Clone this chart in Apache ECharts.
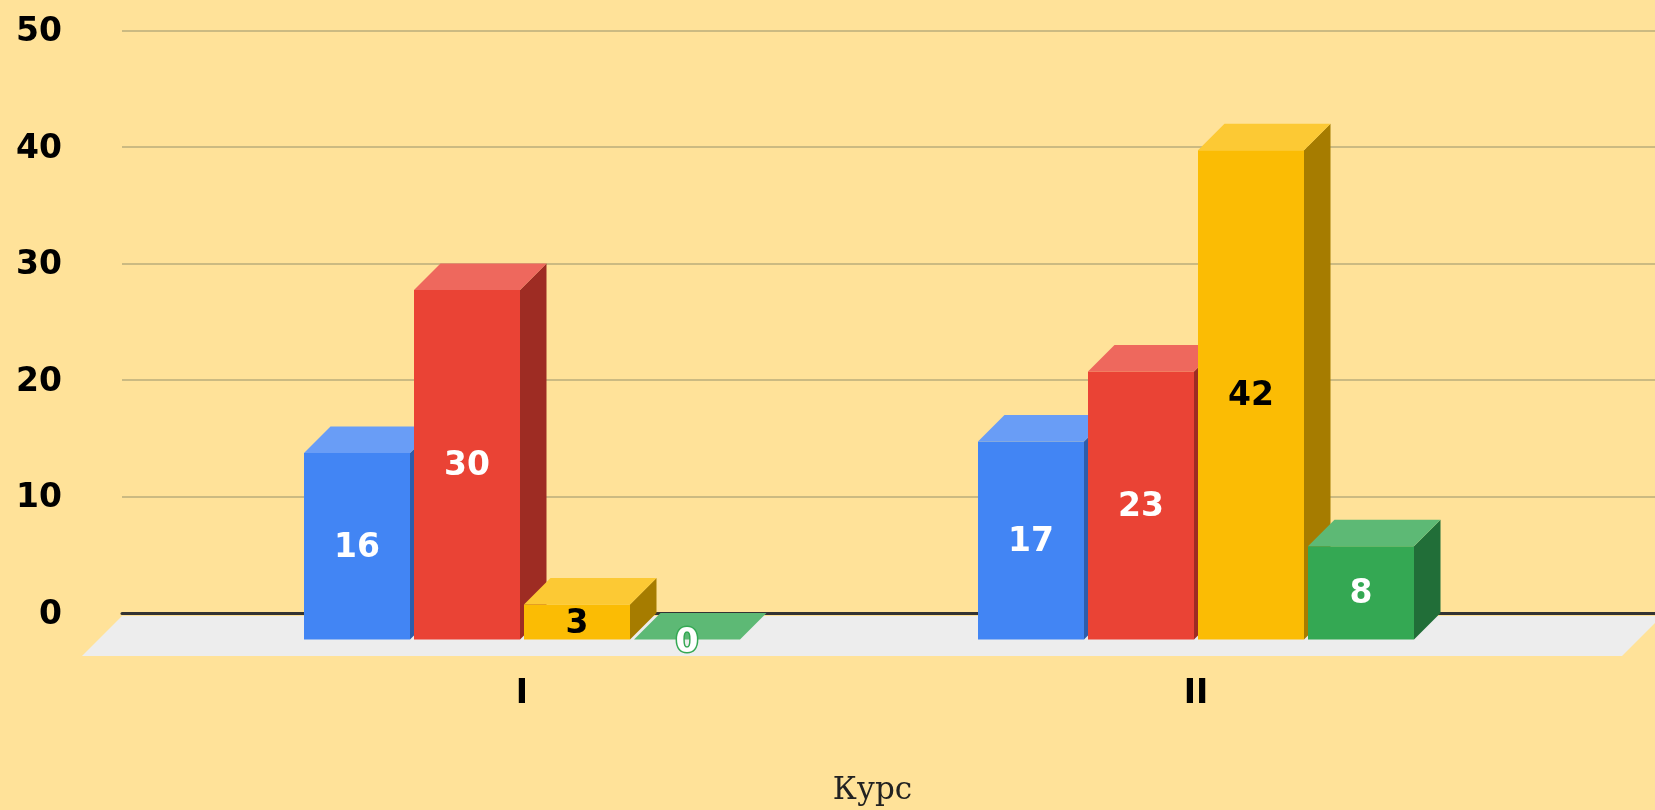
<!DOCTYPE html>
<html>
<head>
<meta charset="utf-8">
<style>html,body{margin:0;padding:0;background:#FFE299}#c{width:1655px;height:810px}</style>
<script src="https://cdn.jsdelivr.net/npm/echarts@6/dist/echarts.min.js"></script>
</head>
<body>
<div id="c"></div>
<script>
const categories = ['I', 'II'];
const valueTicks = [0, 10, 20, 30, 40, 50];
const axisTitle = 'Курс';
const seriesA = [16, 17];
const seriesB = [30, 23];
const seriesC = [3, 42];
const seriesD = [0, 8];

const palette = [
  {front:'#4285F4', top:'#699DF6', side:'#2E5DAB', text:'#ffffff'},
  {front:'#EA4335', top:'#EE685D', side:'#9E2C23', text:'#ffffff'},
  {front:'#FBBC04', top:'#FCC934', side:'#A67C00', text:'#000000'},
  {front:'#34A853', top:'#5DB975', side:'#216E38', text:'#ffffff'}
];
const DEPTH = 26.5, BAR_W = 106, PITCH = 110;
const labelFont = 'bold 33px "DejaVu Sans", sans-serif';

function barRenderer(idx) {
  const c = palette[idx];
  return function (params, api) {
    const base = api.coord([api.value(0), 0]);
    const back = api.coord([api.value(0), api.value(1)]);
    const xl = base[0] + (idx - 2) * PITCH + (PITCH - BAR_W) / 2;
    const xr = xl + BAR_W;
    const yTop = back[1] + DEPTH, yBot = base[1] + DEPTH;
    const children = [];
    if (yBot > yTop) {
      children.push({type:'polygon', shape:{points:[[xr,yTop],[xr+DEPTH,back[1]],[xr+DEPTH,base[1]],[xr,yBot]]}, style:{fill:c.side}});
      children.push({type:'rect', shape:{x:xl,y:yTop,width:BAR_W,height:yBot-yTop}, style:{fill:c.front}});
    }
    children.push({type:'polygon', shape:{points:[[xl,yTop],[xl+DEPTH,back[1]],[xr+DEPTH,back[1]],[xr,yTop]]}, style:{fill:c.top}});
    const zero = api.value(1) === 0;
    children.push({type:'text', z2:10, style:{
      x:(xl+xr)/2, y:(yTop+yBot)/2 + (zero ? 4 : 2), text:String(api.value(1)), align:'center', verticalAlign:'middle',
      font:labelFont, fill:c.text, stroke: zero ? c.front : null, lineWidth: zero ? 3 : 0, strokeFirst:true
    }});
    return {type:'group', children};
  };
}

function floorRenderer(params, api) {
  const r = params.coordSys;
  const y0 = api.coord([0, 0])[1] + 3;
  const d = 40;
  return {type:'polygon', shape:{points:[[r.x,y0],[r.x-d,y0+d],[r.x+r.width-33,y0+d],[r.x+r.width+7,y0]]}, style:{fill:'#EDEDED'}};
}

const valueSets = [seriesA, seriesB, seriesC, seriesD];
const chart = echarts.init(document.getElementById('c'));
chart.setOption({
  backgroundColor:'#FFE299',
  animation:false,
  grid:[
    {left:122, width:1533, top:30.5, height:582.5, outerBoundsMode:'none'},
    {left:185, width:1348, top:30.5, height:582.5, outerBoundsMode:'none'}
  ],
  xAxis:[
    {gridIndex:0, type:'category', data:[''], axisTick:{show:false}, axisLabel:{show:false},
     axisLine:{show:true, lineStyle:{color:'#333333', width:3}}},
    {gridIndex:1, type:'category', data:categories, axisTick:{show:false}, axisLine:{show:false},
     axisLabel:{margin:65, color:'#000', fontFamily:'DejaVu Sans', fontWeight:'bold', fontSize:33},
     name:axisTitle, nameLocation:'center', nameGap:162,
     nameTextStyle:{fontFamily:'DejaVu Serif', fontSize:31, color:'#222', padding:[0,0,0,27]}}
  ],
  yAxis:[
    {gridIndex:0, type:'value', min:valueTicks[0], max:valueTicks[valueTicks.length-1], interval:valueTicks[1]-valueTicks[0],
     axisLine:{show:false}, axisTick:{show:false},
     axisLabel:{margin:60, formatter:'{t|{value}}',
       rich:{t:{color:'#000', fontFamily:'DejaVu Sans', fontWeight:'bold', fontSize:33, padding:[4,0,0,0]}}},
     splitLine:{show:true, lineStyle:{color:'#CBBA82', width:2}}},
    {gridIndex:1, type:'value', min:valueTicks[0], max:valueTicks[valueTicks.length-1], show:false, splitLine:{show:false}}
  ],
  series:[
    {type:'custom', name:'floor', xAxisIndex:0, yAxisIndex:0, data:[[0,0]], renderItem:floorRenderer, silent:true, z:2, clip:false}
  ].concat(valueSets.map((vals, i) => ({
    type:'custom', name:'s'+i, xAxisIndex:1, yAxisIndex:1, z:3+i, clip:false,
    encode:{x:0,y:1},
    data:vals.map((v,k)=>[k,v]),
    renderItem:barRenderer(i)
  })))
});
</script>
</body>
</html>
